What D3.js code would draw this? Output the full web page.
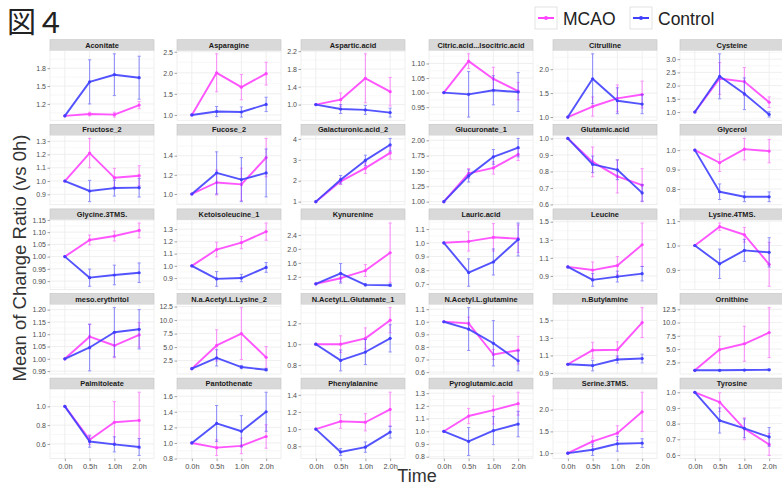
<!DOCTYPE html>
<html>
<head>
<meta charset="utf-8">
<script src="https://cdn.jsdelivr.net/npm/d3@7"></script>
<style>
  body { margin: 0; background: #fff; }
  svg { display: block; font-family: "Liberation Sans", Arial, sans-serif; }
</style>
</head>
<body>
<div id="chart"></div>
<script>
  var times = ["0.0h", "0.5h", "1.0h", "2.0h"];

  var metabolites = [
    "Aconitate", "Asparagine", "Aspartic.acid", "Citric.acid...Isocitric.acid", "Citrulline", "Cysteine",
    "Fructose_2", "Fucose_2", "Galacturonic.acid_2", "Glucuronate_1", "Glutamic.acid", "Glycerol",
    "Glycine.3TMS.", "Ketoisoleucine_1", "Kynurenine", "Lauric.acid", "Leucine", "Lysine.4TMS.",
    "meso.erythritol", "N.a.Acetyl.L.Lysine_2", "N.Acetyl.L.Glutamate_1", "N.Acetyl.L.glutamine", "n.Butylamine", "Ornithine",
    "Palmitoleate", "Pantothenate", "Phenylalanine", "Pyroglutamic.acid", "Serine.3TMS.", "Tyrosine"
  ];

  var mcaoMean = [
    [1, 1.03, 1.02, 1.18], [1, 2.0, 1.66, 1.98], [1, 1.11, 1.59, 1.29], [1, 1.108, 1.047, 1.005], [1, 1.22, 1.39, 1.47], [1, 2.27, 2.15, 1.37],
    [1, 1.21, 1.025, 1.04], [1, 1.12, 1.1, 1.38], [1, 1.97, 2.6, 3.33], [1, 1.46, 1.55, 1.77], [1, 0.858, 0.77, 0.717], [1, 0.935, 1.005, 0.995],
    [1, 1.068, 1.084, 1.107], [1, 1.133, 1.19, 1.28], [1, 1.16, 1.38, 1.89], [1, 1.01, 1.04, 1.03], [1, 0.965, 1.015, 1.245], [1, 1.077, 1.044, 0.923],
    [1, 1.09, 1.054, 1.097], [1, 5.3, 7.5, 3.1], [1, 1.0, 1.056, 1.23], [1, 0.987, 0.74, 0.774], [1, 1.16, 1.165, 1.474], [1, 4.9, 6.0, 8.1],
    [1, 0.645, 0.83, 0.85], [1, 0.94, 0.963, 1.083], [1, 1.09, 1.08, 1.23], [1, 1.12, 1.167, 1.217], [1, 1.27, 1.46, 1.95], [1, 0.937, 0.767, 0.667]
  ];

  var mcaoSd = [
    [0, 0.03, 0.04, 0.06], [0, 0.45, 0.3, 0.27], [0, 0.15, 0.55, 0.32], [0, 0.025, 0.04, 0.03], [0, 0.2, 0.28, 0.28], [0, 0.6, 0.53, 0.2],
    [0, 0.11, 0.07, 0.075], [0, 0.13, 0.17, 0.2], [0, 0.15, 0.25, 0.3], [0, 0.08, 0.1, 0.1], [0, 0.09, 0.1, 0.1], [0, 0.045, 0.055, 0.06],
    [0, 0.02, 0.02, 0.03], [0, 0.06, 0.05, 0.07], [0, 0.1, 0.17, 0.85], [0, 0.07, 0.1, 0.1], [0, 0.09, 0.1, 0.24], [0, 0.015, 0.03, 0.09],
    [0, 0.05, 0.05, 0.05], [0, 2.9, 4.8, 2.0], [0, 0.08, 0.1, 0.12], [0, 0.05, 0.04, 0.11], [0, 0.09, 0.09, 0.17], [0, 2.5, 3.3, 4.7],
    [0, 0.05, 0.22, 0.3], [0, 0.1, 0.1, 0.15], [0, 0.08, 0.1, 0.2], [0, 0.06, 0.11, 0.09], [0, 0.12, 0.17, 0.45], [0, 0.06, 0.07, 0.07]
  ];

  var ctrlMean = [
    [1, 1.57, 1.69, 1.64], [1, 1.08, 1.07, 1.25], [1, 0.9, 0.88, 0.82], [1, 0.994, 1.008, 1.002], [1, 1.8, 1.34, 1.27], [1, 2.35, 1.69, 0.91],
    [1, 0.925, 0.947, 0.95], [1, 1.22, 1.15, 1.22], [1, 2.05, 2.97, 3.72], [1, 1.42, 1.73, 1.88], [1, 0.843, 0.81, 0.67], [1, 0.786, 0.76, 0.76],
    [1, 0.914, 0.925, 0.934], [1, 0.893, 0.9, 0.987], [1, 1.3, 0.97, 0.96], [1, 0.783, 0.86, 1.024], [1, 0.856, 0.893, 0.925], [1, 0.925, 0.98, 0.972],
    [1, 1.046, 1.108, 1.12], [1, 3.0, 1.3, 0.8], [1, 0.845, 0.925, 1.056], [1, 0.942, 0.829, 0.69], [1, 0.985, 1.054, 1.065], [1, 1.0, 1.05, 1.1],
    [1, 0.625, 0.595, 0.567], [1, 1.25, 1.15, 1.4], [1, 0.733, 0.79, 0.965], [1, 0.92, 1.005, 1.057], [1, 1.077, 1.215, 1.23], [1, 0.82, 0.77, 0.715]
  ];

  var ctrlSd = [
    [0, 0.37, 0.35, 0.36], [0, 0.12, 0.12, 0.17], [0, 0.1, 0.1, 0.1], [0, 0.078, 0.05, 0.067], [0, 0.52, 0.27, 0.2], [0, 0.85, 0.6, 0.1],
    [0, 0.08, 0.06, 0.07], [0, 0.22, 0.23, 0.25], [0, 0.2, 0.25, 0.3], [0, 0.1, 0.12, 0.15], [0, 0.05, 0.06, 0.05], [0, 0.04, 0.025, 0.025],
    [0, 0.035, 0.04, 0.04], [0, 0.06, 0.03, 0.04], [0, 0.28, 0.03, 0.03], [0, 0.1, 0.095, 0.12], [0, 0.07, 0.06, 0.08], [0, 0.06, 0.045, 0.06],
    [0, 0.095, 0.1, 0.08], [0, 1.5, 0.3, 0.2], [0, 0.1, 0.12, 0.13], [0, 0.17, 0.18, 0.08], [0, 0.06, 0.04, 0.05], [0, 0.1, 0.1, 0.1],
    [0, 0.06, 0.08, 0.09], [0, 0.23, 0.2, 0.25], [0, 0.04, 0.06, 0.07], [0, 0.11, 0.11, 0.1], [0, 0.13, 0.17, 0.1], [0, 0.08, 0.06, 0.06]
  ];

  var yTickLabels = [
    ["1.2", "1.5", "1.8"], ["1.0", "1.5", "2.0", "2.5"], ["1.0", "1.4", "1.8", "2.2"], ["0.95", "1.00", "1.05", "1.10"], ["1.0", "1.5", "2.0"], ["1.0", "1.5", "2.0", "2.5", "3.0"],
    ["0.9", "1.0", "1.1", "1.2", "1.3"], ["1.0", "1.2", "1.4"], ["1", "2", "3", "4"], ["1.00", "1.25", "1.50", "1.75", "2.00"], ["0.6", "0.7", "0.8", "0.9", "1.0"], ["0.8", "0.9", "1.0"],
    ["0.90", "0.95", "1.00", "1.05", "1.10", "1.15"], ["0.9", "1.0", "1.1", "1.2", "1.3"], ["1.2", "1.6", "2.0", "2.4"], ["0.7", "0.8", "0.9", "1.0", "1.1"], ["0.9", "1.1", "1.3", "1.5"], ["0.9", "1.0", "1.1"],
    ["0.95", "1.00", "1.05", "1.10", "1.15", "1.20"], ["2.5", "5.0", "7.5", "10.0", "12.5"], ["0.8", "1.0", "1.2"], ["0.6", "0.7", "0.8", "0.9", "1.0", "1.1"], ["0.9", "1.1", "1.3", "1.5"], ["2.5", "5.0", "7.5", "10.0", "12.5"],
    ["0.6", "0.8", "1.0"], ["0.8", "1.0", "1.2", "1.4", "1.6"], ["0.8", "1.0", "1.2", "1.4"], ["0.8", "0.9", "1.0", "1.1", "1.2", "1.3"], ["1.0", "1.5", "2.0"], ["0.6", "0.7", "0.8", "0.9", "1.0"]
  ];

  var groups = ["MCAO", "Control"];
  var colors = {MCAO: "#ff44ff", Control: "#4040ff"};

  var width = 782, height = 487;
  var ncol = 6;
  var colLeft = [50, 177, 301, 429, 553, 680];
  var panelW = 104;
  var stripH = 11, plotH = 69.5, rowPitch = 84.6, firstTop = 39.7;

  var svg = d3.select("#chart").append("svg")
    .attr("width", width)
    .attr("height", height);

  var x = d3.scalePoint().domain(times).range([0, panelW]).padding(0.6);

  metabolites.forEach(function(name, i) {
    var col = i % ncol, row = Math.floor(i / ncol);
    var g = svg.append("g")
      .attr("transform", "translate(" + colLeft[col] + "," + (firstTop + row * rowPitch) + ")");

    var series = [
      {key: "MCAO", mean: mcaoMean[i], sd: mcaoSd[i]},
      {key: "Control", mean: ctrlMean[i], sd: ctrlSd[i]}
    ];

    // y range from error bar limits, plus ggplot's 5% expansion
    var lo = d3.min(series, function(s) { return d3.min(s.mean, function(m, j) { return m - s.sd[j]; }); });
    var hi = d3.max(series, function(s) { return d3.max(s.mean, function(m, j) { return m + s.sd[j]; }); });
    var pad = (hi - lo) * 0.05;
    var y = d3.scaleLinear().domain([lo - pad, hi + pad]).range([stripH + plotH, stripH]);

    // strip
    g.append("rect")
      .attr("x", 0).attr("y", 0)
      .attr("width", panelW).attr("height", stripH)
      .attr("fill", "#d9d9d9")
      .attr("stroke", "#c4c4c4")
      .attr("stroke-width", 0.6);
    g.append("text")
      .attr("x", panelW / 2).attr("y", stripH / 2 + 2.6)
      .attr("text-anchor", "middle")
      .attr("font-size", 7.4)
      .attr("font-weight", "bold")
      .attr("fill", "#1a1a1a")
      .text(name);

    // panel
    g.append("rect")
      .attr("x", 0).attr("y", stripH)
      .attr("width", panelW).attr("height", plotH)
      .attr("fill", "#fff")
      .attr("stroke", "#e3e3e3")
      .attr("stroke-width", 0.6);

    var ticks = yTickLabels[i].map(Number);
    var step = ticks.length > 1 ? ticks[1] - ticks[0] : 1;
    var minor = [ticks[0] - step / 2].concat(ticks.map(function(t) { return t + step / 2; }))
      .filter(function(t) { return t > y.domain()[0] && t < y.domain()[1]; });

    g.selectAll(".minor").data(minor).enter().append("line")
      .attr("x1", 0).attr("x2", panelW)
      .attr("y1", function(d) { return y(d); }).attr("y2", function(d) { return y(d); })
      .attr("stroke", "#f4f4f4").attr("stroke-width", 0.6);
    g.selectAll(".major").data(ticks).enter().append("line")
      .attr("x1", 0).attr("x2", panelW)
      .attr("y1", function(d) { return y(d); }).attr("y2", function(d) { return y(d); })
      .attr("stroke", "#ebebeb").attr("stroke-width", 0.8);
    g.selectAll(".vgrid").data(times).enter().append("line")
      .attr("x1", function(d) { return x(d); }).attr("x2", function(d) { return x(d); })
      .attr("y1", stripH).attr("y2", stripH + plotH)
      .attr("stroke", "#ebebeb").attr("stroke-width", 0.8);

    // y axis
    var yAxis = g.append("g")
      .call(d3.axisLeft(y).tickValues(ticks).tickSize(2.5).tickFormat(function(d, k) { return yTickLabels[i][k]; }));
    yAxis.select(".domain").remove();
    yAxis.selectAll("line").attr("stroke", "#666").attr("stroke-width", 0.6);
    yAxis.selectAll("text")
      .attr("x", -4)
      .attr("font-size", 7)
      .attr("font-family", "Liberation Sans, Arial, sans-serif")
      .attr("fill", "#4d4d4d");

    // x axis only on bottom row
    if (row === 4) {
      var xAxis = g.append("g")
        .attr("transform", "translate(0," + (stripH + plotH) + ")")
        .call(d3.axisBottom(x).tickSize(2.5));
      xAxis.select(".domain").remove();
      xAxis.selectAll("line").attr("stroke", "#666").attr("stroke-width", 0.6);
      xAxis.selectAll("text")
        .attr("y", 5.5)
        .attr("font-size", 7.4)
        .attr("font-family", "Liberation Sans, Arial, sans-serif")
        .attr("fill", "#4d4d4d");
    }

    var line = d3.line()
      .x(function(d, j) { return x(times[j]); })
      .y(function(d) { return y(d); });

    series.forEach(function(s) {
      var c = colors[s.key];
      var eg = g.append("g").attr("opacity", 0.55);
      s.mean.forEach(function(m, j) {
        if (s.sd[j] === 0) return;
        var cx = x(times[j]);
        eg.append("line")
          .attr("x1", cx).attr("x2", cx)
          .attr("y1", y(m - s.sd[j])).attr("y2", y(m + s.sd[j]))
          .attr("stroke", c).attr("stroke-width", 1.1);
        [m - s.sd[j], m + s.sd[j]].forEach(function(v) {
          eg.append("line")
            .attr("x1", cx - 1.6).attr("x2", cx + 1.6)
            .attr("y1", y(v)).attr("y2", y(v))
            .attr("stroke", c).attr("stroke-width", 1);
        });
      });
      g.append("path")
        .datum(s.mean)
        .attr("d", line)
        .attr("fill", "none")
        .attr("stroke", c)
        .attr("stroke-width", 1.9)
        .attr("stroke-opacity", 0.9)
        .attr("stroke-linejoin", "round");
      g.selectAll(".pt-" + s.key).data(s.mean).enter().append("circle")
        .attr("cx", function(d, j) { return x(times[j]); })
        .attr("cy", function(d) { return y(d); })
        .attr("r", 1.6)
        .attr("fill", c);
    });
  });

  // title
  svg.append("text")
    .attr("x", 7).attr("y", 33)
    .attr("font-family", "Noto Sans CJK JP, sans-serif")
    .attr("font-size", 29)
    .attr("fill", "#222")
    .text("図４");

  // legend
  var legendX = [535, 630];
  groups.forEach(function(gname, k) {
    var lg = svg.append("g").attr("transform", "translate(" + legendX[k] + ",7)");
    lg.append("rect")
      .attr("width", 22).attr("height", 22)
      .attr("fill", "#fff")
      .attr("stroke", "#dcdcdc")
      .attr("stroke-width", 0.8);
    lg.append("line")
      .attr("x1", 3).attr("x2", 19).attr("y1", 11).attr("y2", 11)
      .attr("stroke", colors[gname]).attr("stroke-width", 2);
    lg.append("circle")
      .attr("cx", 11).attr("cy", 11).attr("r", 2)
      .attr("fill", colors[gname]);
    lg.append("text")
      .attr("x", 28).attr("y", 17.5)
      .attr("font-size", 17.5)
      .attr("fill", "#222")
      .text(gname);
  });

  // axis titles
  svg.append("text")
    .attr("transform", "translate(26,258) rotate(-90)")
    .attr("text-anchor", "middle")
    .attr("font-size", 18.5)
    .attr("fill", "#333")
    .text("Mean of Change Ratio (vs 0h)");

  svg.append("text")
    .attr("x", 417).attr("y", 482)
    .attr("text-anchor", "middle")
    .attr("font-size", 18)
    .attr("fill", "#333")
    .text("Time");
</script>
</body>
</html>
